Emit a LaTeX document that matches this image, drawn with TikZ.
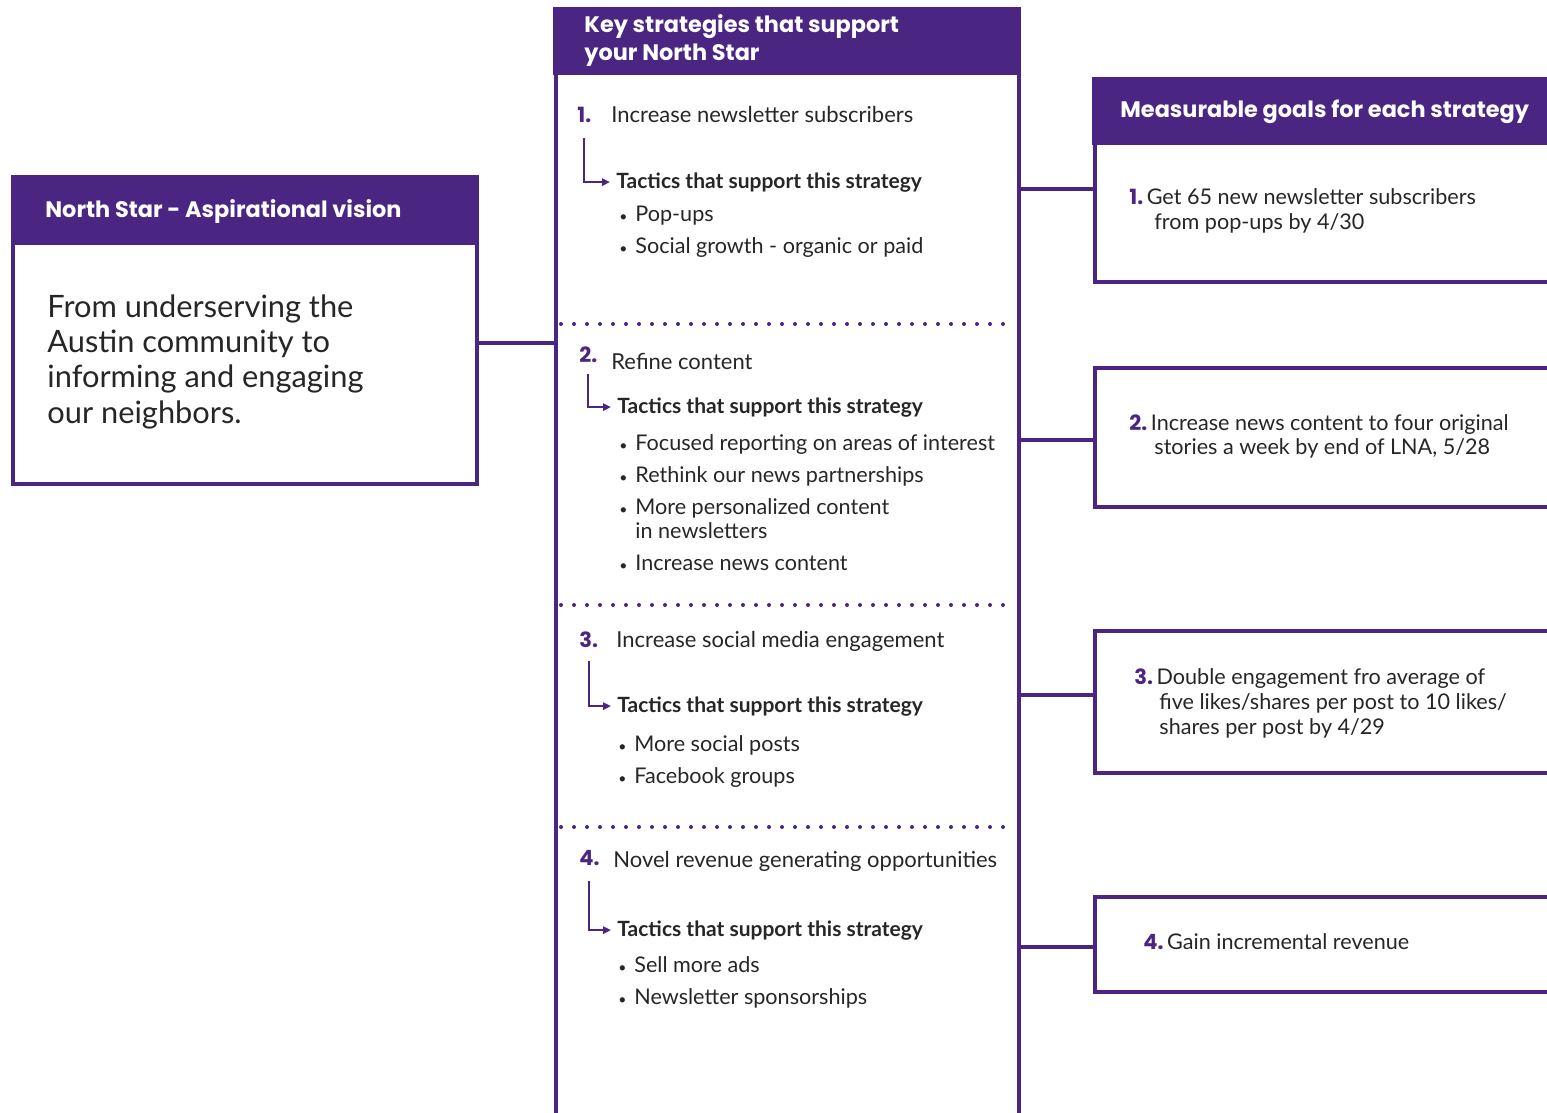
\documentclass[tikz,border=0pt]{standalone}
\usepackage{fontspec}
\setmainfont{Lato}
\newfontfamily\headfont{Poppins}
\usetikzlibrary{arrows.meta, positioning}
\definecolor{nsp}{HTML}{4A2682}
\definecolor{ink}{HTML}{262626}
\newcommand\bodysize{\fontsize{11}{13}\selectfont}
\newcommand\bul{\makebox[8pt][l]{\fontsize{7}{7}\selectfont\textbullet}}
\newcommand\gnum[1]{\textcolor{nsp}{\headfont\bfseries\fontsize{10.5}{12}\selectfont #1}\,}

\begin{document}
\begin{tikzpicture}[x=0.5pt, y=-0.5pt,
    bar/.style={draw=nsp, line width=2pt},
    sep/.style={draw=nsp, line width=2pt, line cap=round, dash pattern=on 0pt off 6.5pt},
    hd/.style={font=\headfont\bfseries\fontsize{11.2}{13}\selectfont, text=white, anchor=base west, inner sep=0pt},
    txt/.style={font=\bodysize, text=ink, anchor=base west, inner sep=0pt},
    item/.style={txt, font=\fontsize{10.8}{13}\selectfont},
    big/.style={txt, font=\fontsize{15.4}{18}\selectfont},
    num/.style={font=\headfont\bfseries\fontsize{10.5}{12}\selectfont, text=nsp, anchor=base west, inner sep=0pt},
    tac/.style={font=\bfseries\fontsize{10.5}{12}\selectfont, text=ink, anchor=base west, inner sep=0pt},
    elbow/.style={draw=nsp, line width=1pt, -{Triangle[length=4pt, width=3.6pt]}, shorten >=3pt}]

    \useasboundingbox (0,0) rectangle (1547,1113);

    % North Star
    \fill[nsp] (11,175) rectangle (479,245);
    \draw[bar] (13,245) -- (13,484) -- (477,484) -- (477,245);
    \node at (45,217) [hd] (nshead) {North Star - Aspirational vision};
    \node at (47,317) [big] (ns1) {From underserving the};
    \node at (47,352) [big] (ns2) {Austin community to};
    \node at (47,387) [big] (ns3) {informing and engaging};
    \node at (47,423) [big] (ns4) {our neighbors.};
    \coordinate (ns_e) at (477,343);

    % Key strategies
    \fill[nsp] (553,7) rectangle (1021,75);
    \draw[bar] (556,75) -- (556,1113);
    \draw[bar] (1019,75) -- (1019,1113);
    \node at (584,33) [hd] (kshead1) {Key strategies that support};
    \node at (584,61) [hd] (kshead2) {your North Star};
    \coordinate (ks_w) at (556,343);
    \foreach \y in {324,605,827}
        \draw[sep] (561,\y) -- (1015,\y);

    % strategy 1
    \node at (577,123) [num] (n1) {1.};
    \node at (611,123) [txt] (s1) {Increase newsletter subscribers};
    \node at (616,188) [tac] (t1) {Tactics that support this strategy};
    \node at (619,221) [item] (b11) {\bul Pop-ups};
    \node at (619,253) [item] (b12) {\bul Social growth - organic or paid};
    \draw[elbow] (n1.south) ++(0,14) |- (t1.west);

    % strategy 2
    \node at (579,362) [num] (n2) {2.};
    \node at (611,369) [txt] (s2) {Refine content};
    \node at (617,413) [tac] (t2) {Tactics that support this strategy};
    \node at (619,450) [item] (b21) {\bul Focused reporting on areas of interest};
    \node at (619,482) [item] (b22) {\bul Rethink our news partnerships};
    \node at (619,514) [item] (b23) {\bul More personalized content};
    \node at (635,538) [item] (b23b) {in newsletters};
    \node at (619,570) [item] (b24) {\bul Increase news content};
    \draw[elbow] (n2.south) ++(0,11) |- (t2.west);

    % strategy 3
    \node at (579,647) [num] (n3) {3.};
    \node at (616,647) [txt] (s3) {Increase social media engagement};
    \node at (617,712) [tac] (t3) {Tactics that support this strategy};
    \node at (618,751) [item] (b31) {\bul More social posts};
    \node at (618,783) [item] (b32) {\bul Facebook groups};
    \draw[elbow] (n3.south) ++(0,13) |- (t3.west);

    % strategy 4
    \node at (579,865) [num] (n4) {4.};
    \node at (613,867) [txt] (s4) {Novel revenue generating opportunities};
    \node at (617,936) [tac] (t4) {Tactics that support this strategy};
    \node at (618,972) [item] (b41) {\bul Sell more ads};
    \node at (618,1004) [item] (b42) {\bul Newsletter sponsorships};
    \draw[elbow] (n4.south) ++(0,15) |- (t4.west);

    % Measurable goals
    \fill[nsp] (1092,77) rectangle (1547,145);
    \node at (1120,118) [hd] (mghead) {Measurable goals for each strategy};

    \draw[bar] (1095,145) -- (1095,282) -- (1547,282);
    \draw[bar] (1547,367.5) -- (1095,367.5) -- (1095,506.5) -- (1547,506.5);
    \draw[bar] (1547,630.5) -- (1095,630.5) -- (1095,772.5) -- (1547,772.5);
    \draw[bar] (1547,896.5) -- (1095,896.5) -- (1095,991.5) -- (1547,991.5);

    \node at (1129,205) [item] (g1a) {\gnum{1.}Get 65 new newsletter subscribers};
    \node at (1154,229) [item] (g1b) {from pop-ups by 4/30};
    \node at (1129,430) [item] (g2a) {\gnum{2.}Increase news content to four original};
    \node at (1154,454) [item] (g2b) {stories a week by end of LNA, 5/28};
    \node at (1134,684) [item] (g3a) {\gnum{3.}Double engagement fro average of};
    \node at (1159,709) [item] (g3b) {five likes/shares per post to 10 likes/};
    \node at (1159,734) [item] (g3c) {shares per post by 4/29};
    \node at (1143,949) [item] (g4a) {\gnum{4.}Gain incremental revenue};

    \coordinate (ks_e1) at (1019,189);
    \coordinate (ks_e2) at (1019,440);
    \coordinate (ks_e3) at (1019,695);
    \coordinate (ks_e4) at (1019,947);
    \coordinate (mg_w1) at (1095,189);
    \coordinate (mg_w2) at (1095,440);
    \coordinate (mg_w3) at (1095,695);
    \coordinate (mg_w4) at (1095,947);

    % connectors
    \draw[bar] (ns_e) -- (ks_w);
    \draw[bar] (ks_e1) -- (mg_w1);
    \draw[bar] (ks_e2) -- (mg_w2);
    \draw[bar] (ks_e3) -- (mg_w3);
    \draw[bar] (ks_e4) -- (mg_w4);

\end{tikzpicture}
\end{document}
